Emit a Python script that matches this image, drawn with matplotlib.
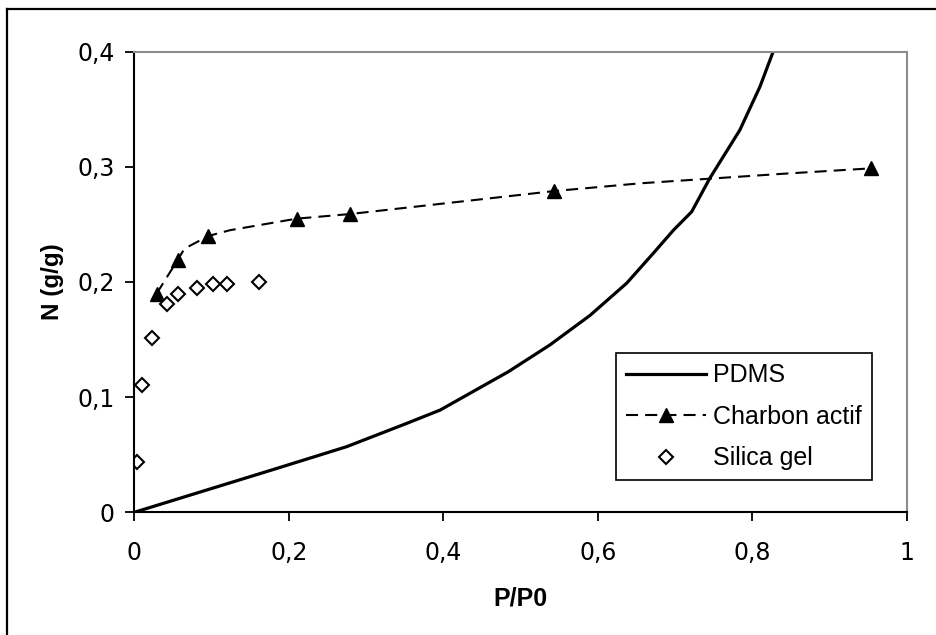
import matplotlib
matplotlib.use("Agg")
import matplotlib.pyplot as plt
from matplotlib.lines import Line2D

# ---- data ----
pdms_x = [0.0, 0.184, 0.275, 0.353, 0.396, 0.484, 0.538, 0.590, 0.6375,
          0.672, 0.698, 0.7216, 0.745, 0.784, 0.810, 0.8295, 0.845]
pdms_y = [0.0, 0.038, 0.057, 0.0773, 0.0888, 0.122, 0.1453, 0.171, 0.199,
          0.225, 0.245, 0.261, 0.290, 0.332, 0.3696, 0.4043, 0.431]

charbon_line_x = [0.029, 0.056, 0.065, 0.096, 0.124, 0.210, 0.279, 0.544,
                  0.655, 0.840, 0.954]
charbon_line_y = [0.190, 0.219, 0.229, 0.240, 0.245, 0.255, 0.259, 0.279,
                  0.2857, 0.2940, 0.2987]
charbon_x = [0.029, 0.056, 0.096, 0.210, 0.279, 0.544, 0.954]
charbon_y = [0.190, 0.219, 0.240, 0.255, 0.259, 0.279, 0.2987]

silica_x = [0.003, 0.0104, 0.0233, 0.042, 0.057, 0.081, 0.1015, 0.1196, 0.161]
silica_y = [0.0434, 0.1108, 0.151, 0.181, 0.190, 0.1945, 0.198, 0.198, 0.1997]

x_ticks = [0, 0.2, 0.4, 0.6, 0.8, 1.0]
x_labels = ["0", "0,2", "0,4", "0,6", "0,8", "1"]
y_ticks = [0, 0.1, 0.2, 0.3, 0.4]
y_labels = ["0", "0,1", "0,2", "0,3", "0,4"]

W, H = 937, 635
fig = plt.figure(figsize=(W / 100, H / 100), dpi=100)
ax = fig.add_axes([134.3 / W, 1 - 512.3 / H, 772.4 / W, 460.6 / H])

ax.plot(pdms_x, pdms_y, color="black", lw=2.3, solid_joinstyle="round")
ax.plot(charbon_line_x, charbon_line_y, color="black", lw=1.5,
        dashes=(5.8, 3.4))
ax.plot(charbon_x, charbon_y, linestyle="none", marker="^", ms=10,
        color="black")
ax.plot(silica_x, silica_y, linestyle="none", marker="D", ms=7,
        mfc="white", mec="black", mew=1.5)

ax.set_xlim(0, 1)
ax.set_ylim(0, 0.4)
ax.set_xticks(x_ticks)
ax.set_xticklabels(x_labels, family="DejaVu Sans", fontsize=17)
ax.set_yticks(y_ticks)
ax.set_yticklabels(y_labels, family="DejaVu Sans", fontsize=17)
ax.tick_params(axis="both", direction="out", length=6.5, width=1.3,
               color="black")
ax.tick_params(axis="x", pad=14.5)
ax.tick_params(axis="y", pad=7.5)

for s in ("left", "bottom"):
    ax.spines[s].set_color("black")
    ax.spines[s].set_linewidth(1.5)
for s in ("top", "right"):
    ax.spines[s].set_color("#8c8c8c")
    ax.spines[s].set_linewidth(1.5)

ax.set_xlabel("P/P0", family="Liberation Sans", fontweight="bold",
              fontsize=18, labelpad=15)
ax.set_ylabel("N (g/g)", family="Liberation Sans", fontweight="bold",
              fontsize=17.5, labelpad=9.5)

handles = [
    Line2D([], [], color="black", lw=2.3),
    Line2D([], [], color="black", lw=1.5, dashes=(5.8, 3.4), marker="^",
           ms=10),
    Line2D([], [], linestyle="none", marker="D", ms=7, mfc="white",
           mec="black", mew=1.5),
]
leg = fig.legend(handles, ["PDMS", "Charbon actif", "Silica gel"],
                 loc="upper left",
                 bbox_to_anchor=(615.7 / W, 1 - 353.3 / H),
                 borderaxespad=0, fancybox=False, frameon=True,
                 edgecolor="black", framealpha=1,
                 prop={"family": "Liberation Sans", "size": 18},
                 handlelength=3.2, handletextpad=0.3, labelspacing=0.7,
                 borderpad=0.4)
leg.get_frame().set_linewidth(1.2)

# outer frame (left and top edges visible)
fig.add_artist(Line2D([7.3 / W, 7.3 / W], [0, 1 - 9.3 / H], color="black",
                      lw=1.6, transform=fig.transFigure))
fig.add_artist(Line2D([7.3 / W, 1.0], [1 - 9.3 / H, 1 - 9.3 / H],
                      color="black", lw=1.6, transform=fig.transFigure))

fig.savefig("out.png", dpi=100)
